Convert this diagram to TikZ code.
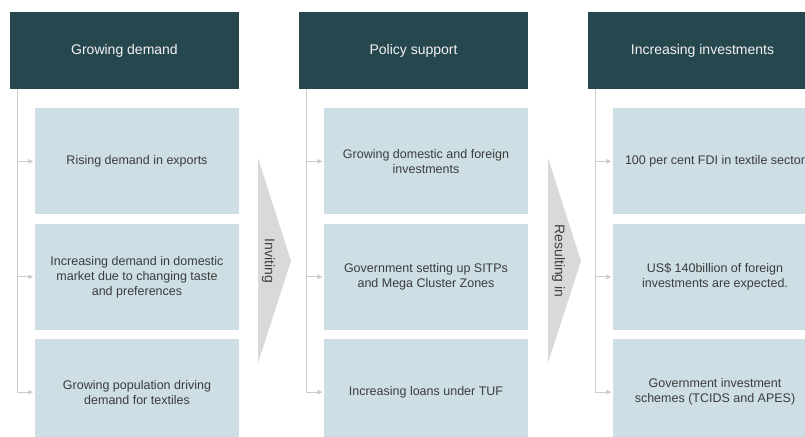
\documentclass[tikz,border=0pt]{standalone}
\usepackage{fontspec}
\setmainfont{Liberation Sans}
\usepackage{xcolor}
\usepackage{tikz}
\usetikzlibrary{positioning,arrows.meta}

\definecolor{headteal}{HTML}{27474F}
\definecolor{itemblue}{HTML}{CDDFE5}
\definecolor{linegray}{HTML}{CCCCCC}
\definecolor{chevgray}{HTML}{D9D9D9}
\definecolor{textgray}{HTML}{3C3C3C}

\tikzset{
  header/.style={fill=headteal, text=white!90!gray, minimum width=229pt, minimum height=77pt, inner sep=0pt, font=\fontsize{14}{17}\selectfont},
  item/.style={fill=itemblue, text=textgray, minimum width=204pt, minimum height=106pt, inner sep=0pt, align=center, font=\fontsize{12.5}{15}\selectfont},
  trunk/.style={draw=linegray, line width=1.1pt},
  link/.style={trunk, -{Triangle[length=5pt,width=4.5pt]}, shorten >=1.5pt},
  chevlabel/.style={rotate=-90, text=black!75, font=\fontsize{14}{17}\selectfont}
}

\begin{document}
\begin{tikzpicture}[x=1pt,y=-1pt]
    \useasboundingbox (0,0) rectangle (805,436);
    \clip (0,0) rectangle (805,436);

    % headers
    \node[header] (demand) at (124.5,50.5) {Growing demand};
    \node[header] (policy) at (413.5,50.5) {Policy support};
    \node[header] (invest) at (702.5,50.5) {Increasing investments};

    % growing demand
    \node[item, below left=19pt and 0pt of demand.south east] (dem1) {Rising demand in exports};
    \node[item, below=9pt of dem1] (dem2) {Increasing demand in domestic\\market due to changing taste\\and preferences};
    \node[item, below=9pt of dem2] (dem3) {Growing population driving\\demand for textiles};

    % policy support
    \node[item, below left=19pt and 0pt of policy.south east] (pol1) {Growing domestic and foreign\\investments};
    \node[item, below=9pt of pol1] (pol2) {Government setting up SITPs\\and Mega Cluster Zones};
    \node[item, below=9pt of pol2] (pol3) {Increasing loans under TUF};

    % increasing investments
    \node[item, below left=19pt and 0pt of invest.south east] (inv1) {100 per cent FDI in textile sector};
    \node[item, below=9pt of inv1] (inv2) {US\$ 140billion of foreign\\investments are expected.};
    \node[item, below=9pt of inv2] (inv3) {Government investment\\schemes (TCIDS and APES)};

    % spines and arrows
    \coordinate (demspine) at ([xshift=8pt]demand.south west);
    \coordinate (polspine) at ([xshift=8pt]policy.south west);
    \coordinate (invspine) at ([xshift=8pt]invest.south west);

    \draw[link] (demspine) |- (dem3.west);
    \draw[link] (demspine |- dem1.west) -- (dem1.west);
    \draw[link] (demspine |- dem2.west) -- (dem2.west);

    \draw[link] (polspine) |- (pol3.west);
    \draw[link] (polspine |- pol1.west) -- (pol1.west);
    \draw[link] (polspine |- pol2.west) -- (pol2.west);

    \draw[link] (invspine) |- (inv3.west);
    \draw[link] (invspine |- inv1.west) -- (inv1.west);
    \draw[link] (invspine |- inv2.west) -- (inv2.west);

    % chevrons
    \fill[chevgray] (258,158) -- (291,261) -- (258,363) -- cycle;
    \node[chevlabel] (inviting) at (268.5,261) {Inviting};
    \fill[chevgray] (548,158) -- (581,261) -- (548,363) -- cycle;
    \node[chevlabel] (resulting) at (558.5,261) {Resulting in};
\end{tikzpicture}
\end{document}
